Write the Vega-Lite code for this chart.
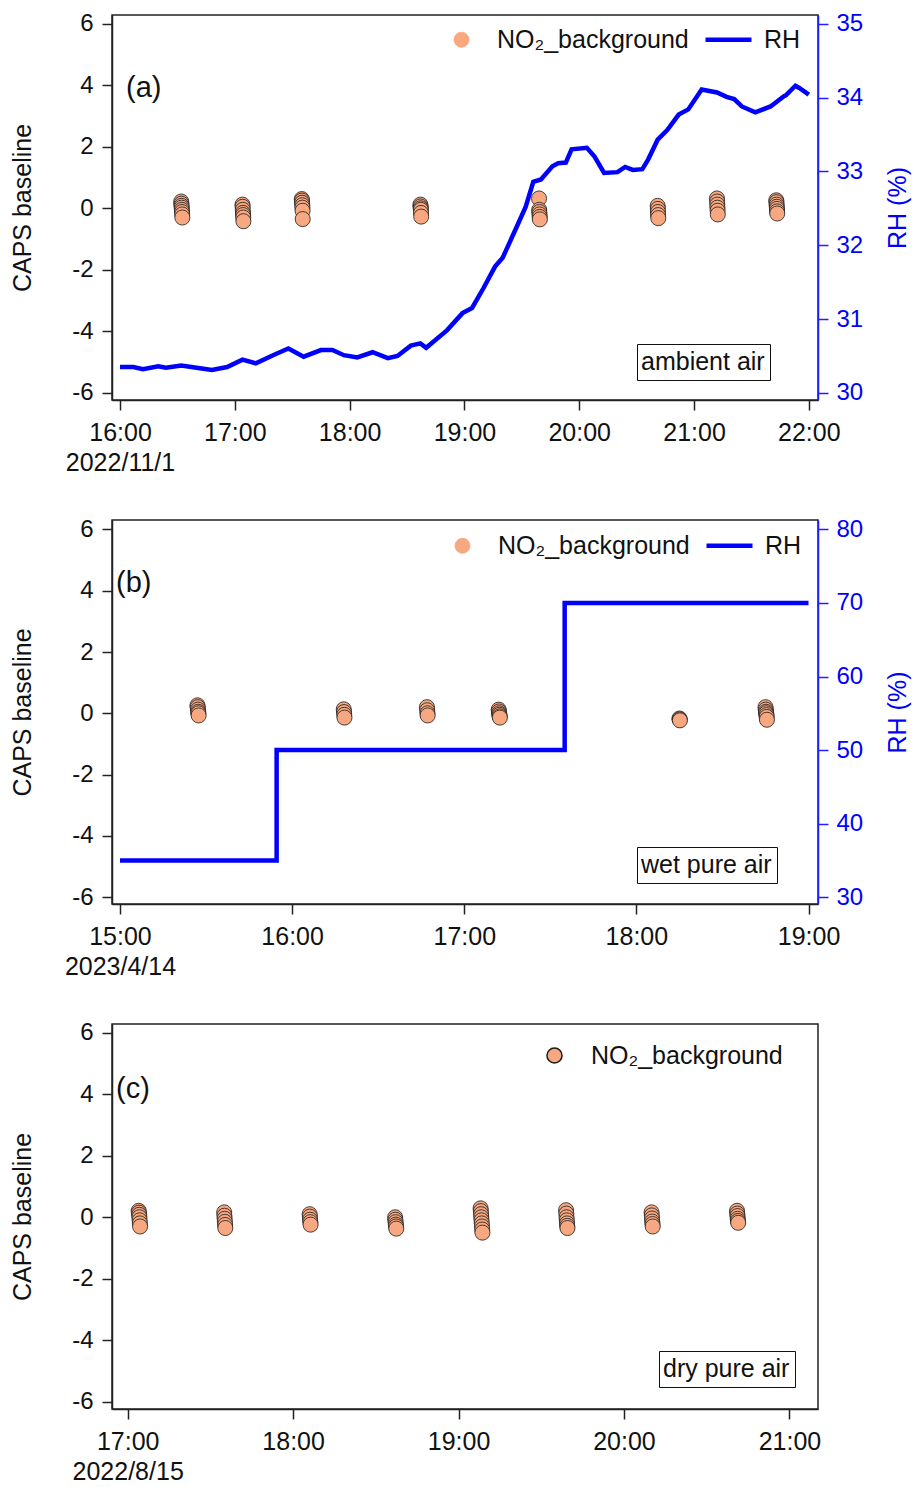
{
  "$schema": "https://vega.github.io/schema/vega-lite/v6.json",
  "background": "white",
  "padding": {"left": 9, "top": 11, "right": 5, "bottom": 5},
  "spacing": 120,
  "bounds": "flush",
  "config": {
    "font": "Liberation Sans",
    "view": {"stroke": "#222", "strokeWidth": 1.5},
    "axis": {
      "labelFont": "Liberation Sans", "titleFont": "Liberation Sans",
      "labelColor": "#111", "titleColor": "#111", "titleFontWeight": "normal",
      "domainColor": "#222", "tickColor": "#222", "domainWidth": 1.5, "tickWidth": 1.5,
      "tickSize": 10, "grid": false, "labelOverlap": false
    },
    "legend": {"labelFont": "Liberation Sans", "labelFontSize": 25, "labelColor": "#111", "labelLimit": 500},
    "title": {"font": "Liberation Sans", "fontSize": 29, "fontWeight": "normal", "color": "#111"}
  },
  "datasets": {
    "a_pts": [
      {"t": "2022-11-01T16:32:00Z", "v": 0.22}, {"t": "2022-11-01T16:32:05Z", "v": 0.15}, {"t": "2022-11-01T16:32:10Z", "v": 0.08}, {"t": "2022-11-01T16:32:15Z", "v": 0.02},
      {"t": "2022-11-01T16:32:20Z", "v": -0.05}, {"t": "2022-11-01T16:32:25Z", "v": -0.12}, {"t": "2022-11-01T16:32:30Z", "v": -0.2}, {"t": "2022-11-01T16:32:35Z", "v": -0.3},
      {"t": "2022-11-01T17:04:00Z", "v": 0.12}, {"t": "2022-11-01T17:04:05Z", "v": 0.05}, {"t": "2022-11-01T17:04:10Z", "v": -0.05}, {"t": "2022-11-01T17:04:15Z", "v": -0.15},
      {"t": "2022-11-01T17:04:20Z", "v": -0.22}, {"t": "2022-11-01T17:04:25Z", "v": -0.3}, {"t": "2022-11-01T17:04:30Z", "v": -0.42},
      {"t": "2022-11-01T17:35:00Z", "v": 0.3}, {"t": "2022-11-01T17:35:05Z", "v": 0.25}, {"t": "2022-11-01T17:35:10Z", "v": 0.18}, {"t": "2022-11-01T17:35:15Z", "v": 0.1},
      {"t": "2022-11-01T17:35:20Z", "v": 0.02}, {"t": "2022-11-01T17:35:25Z", "v": -0.08}, {"t": "2022-11-01T17:35:30Z", "v": -0.35},
      {"t": "2022-11-01T18:37:00Z", "v": 0.12}, {"t": "2022-11-01T18:37:05Z", "v": 0.06}, {"t": "2022-11-01T18:37:10Z", "v": 0.0}, {"t": "2022-11-01T18:37:15Z", "v": -0.05},
      {"t": "2022-11-01T18:37:20Z", "v": -0.15}, {"t": "2022-11-01T18:37:25Z", "v": -0.27},
      {"t": "2022-11-01T19:39:00Z", "v": 0.32}, {"t": "2022-11-01T19:39:05Z", "v": -0.05}, {"t": "2022-11-01T19:39:10Z", "v": -0.12}, {"t": "2022-11-01T19:39:15Z", "v": -0.2},
      {"t": "2022-11-01T19:39:20Z", "v": -0.28}, {"t": "2022-11-01T19:39:25Z", "v": -0.36},
      {"t": "2022-11-01T20:41:00Z", "v": 0.08}, {"t": "2022-11-01T20:41:05Z", "v": -0.02}, {"t": "2022-11-01T20:41:10Z", "v": -0.12}, {"t": "2022-11-01T20:41:15Z", "v": -0.22},
      {"t": "2022-11-01T20:41:20Z", "v": -0.32},
      {"t": "2022-11-01T21:12:00Z", "v": 0.32}, {"t": "2022-11-01T21:12:05Z", "v": 0.22}, {"t": "2022-11-01T21:12:10Z", "v": 0.12}, {"t": "2022-11-01T21:12:15Z", "v": 0.02},
      {"t": "2022-11-01T21:12:20Z", "v": -0.08}, {"t": "2022-11-01T21:12:25Z", "v": -0.2},
      {"t": "2022-11-01T21:43:00Z", "v": 0.26}, {"t": "2022-11-01T21:43:05Z", "v": 0.2}, {"t": "2022-11-01T21:43:10Z", "v": 0.12}, {"t": "2022-11-01T21:43:15Z", "v": 0.05},
      {"t": "2022-11-01T21:43:20Z", "v": -0.02}, {"t": "2022-11-01T21:43:25Z", "v": -0.1}, {"t": "2022-11-01T21:43:30Z", "v": -0.17}
    ],
    "a_rh": [
      {"t": "2022-11-01T16:00:00Z", "rh": 30.35}, {"t": "2022-11-01T16:07:00Z", "rh": 30.35}, {"t": "2022-11-01T16:12:00Z", "rh": 30.32}, {"t": "2022-11-01T16:20:00Z", "rh": 30.36},
      {"t": "2022-11-01T16:24:00Z", "rh": 30.34}, {"t": "2022-11-01T16:32:00Z", "rh": 30.37}, {"t": "2022-11-01T16:40:00Z", "rh": 30.34}, {"t": "2022-11-01T16:48:00Z", "rh": 30.31},
      {"t": "2022-11-01T16:56:00Z", "rh": 30.35}, {"t": "2022-11-01T17:04:00Z", "rh": 30.45}, {"t": "2022-11-01T17:11:00Z", "rh": 30.40}, {"t": "2022-11-01T17:20:00Z", "rh": 30.51},
      {"t": "2022-11-01T17:28:00Z", "rh": 30.60}, {"t": "2022-11-01T17:36:00Z", "rh": 30.49}, {"t": "2022-11-01T17:45:00Z", "rh": 30.58}, {"t": "2022-11-01T17:51:00Z", "rh": 30.58},
      {"t": "2022-11-01T17:57:00Z", "rh": 30.51}, {"t": "2022-11-01T18:04:00Z", "rh": 30.48}, {"t": "2022-11-01T18:12:00Z", "rh": 30.55}, {"t": "2022-11-01T18:20:00Z", "rh": 30.47},
      {"t": "2022-11-01T18:25:00Z", "rh": 30.50}, {"t": "2022-11-01T18:32:00Z", "rh": 30.64}, {"t": "2022-11-01T18:37:00Z", "rh": 30.67}, {"t": "2022-11-01T18:40:00Z", "rh": 30.61},
      {"t": "2022-11-01T18:51:00Z", "rh": 30.85}, {"t": "2022-11-01T18:59:00Z", "rh": 31.08}, {"t": "2022-11-01T19:04:00Z", "rh": 31.15}, {"t": "2022-11-01T19:10:00Z", "rh": 31.42},
      {"t": "2022-11-01T19:16:00Z", "rh": 31.71}, {"t": "2022-11-01T19:20:00Z", "rh": 31.83}, {"t": "2022-11-01T19:27:00Z", "rh": 32.23}, {"t": "2022-11-01T19:32:00Z", "rh": 32.52},
      {"t": "2022-11-01T19:36:00Z", "rh": 32.86}, {"t": "2022-11-01T19:40:00Z", "rh": 32.89}, {"t": "2022-11-01T19:46:00Z", "rh": 33.07}, {"t": "2022-11-01T19:49:00Z", "rh": 33.11},
      {"t": "2022-11-01T19:53:00Z", "rh": 33.12}, {"t": "2022-11-01T19:56:00Z", "rh": 33.30}, {"t": "2022-11-01T20:04:00Z", "rh": 33.32}, {"t": "2022-11-01T20:08:00Z", "rh": 33.20},
      {"t": "2022-11-01T20:13:00Z", "rh": 32.98}, {"t": "2022-11-01T20:20:00Z", "rh": 32.99}, {"t": "2022-11-01T20:24:00Z", "rh": 33.06}, {"t": "2022-11-01T20:28:00Z", "rh": 33.02},
      {"t": "2022-11-01T20:33:00Z", "rh": 33.03}, {"t": "2022-11-01T20:36:00Z", "rh": 33.16}, {"t": "2022-11-01T20:41:00Z", "rh": 33.43}, {"t": "2022-11-01T20:46:00Z", "rh": 33.56},
      {"t": "2022-11-01T20:52:00Z", "rh": 33.77}, {"t": "2022-11-01T20:57:00Z", "rh": 33.84}, {"t": "2022-11-01T21:04:00Z", "rh": 34.11}, {"t": "2022-11-01T21:12:00Z", "rh": 34.07},
      {"t": "2022-11-01T21:17:00Z", "rh": 34.01}, {"t": "2022-11-01T21:21:00Z", "rh": 33.98}, {"t": "2022-11-01T21:25:00Z", "rh": 33.88}, {"t": "2022-11-01T21:32:00Z", "rh": 33.80},
      {"t": "2022-11-01T21:40:00Z", "rh": 33.88}, {"t": "2022-11-01T21:47:00Z", "rh": 34.02}, {"t": "2022-11-01T21:48:00Z", "rh": 34.03}, {"t": "2022-11-01T21:53:00Z", "rh": 34.16},
      {"t": "2022-11-01T21:55:00Z", "rh": 34.13}, {"t": "2022-11-01T22:00:00Z", "rh": 34.04}
    ],
    "b_pts": [
      {"t": "2023-04-14T15:27:00Z", "v": 0.26}, {"t": "2023-04-14T15:27:05Z", "v": 0.2}, {"t": "2023-04-14T15:27:10Z", "v": 0.12}, {"t": "2023-04-14T15:27:15Z", "v": 0.05},
      {"t": "2023-04-14T15:27:20Z", "v": 0.0}, {"t": "2023-04-14T15:27:25Z", "v": -0.07},
      {"t": "2023-04-14T16:18:00Z", "v": 0.13}, {"t": "2023-04-14T16:18:05Z", "v": 0.04}, {"t": "2023-04-14T16:18:10Z", "v": -0.05}, {"t": "2023-04-14T16:18:15Z", "v": -0.14},
      {"t": "2023-04-14T16:47:00Z", "v": 0.2}, {"t": "2023-04-14T16:47:05Z", "v": 0.1}, {"t": "2023-04-14T16:47:10Z", "v": 0.0}, {"t": "2023-04-14T16:47:15Z", "v": -0.07},
      {"t": "2023-04-14T17:12:00Z", "v": 0.12}, {"t": "2023-04-14T17:12:05Z", "v": 0.06}, {"t": "2023-04-14T17:12:10Z", "v": 0.0}, {"t": "2023-04-14T17:12:15Z", "v": -0.05},
      {"t": "2023-04-14T17:12:20Z", "v": -0.1}, {"t": "2023-04-14T17:12:25Z", "v": -0.14},
      {"t": "2023-04-14T18:15:00Z", "v": -0.17}, {"t": "2023-04-14T18:15:05Z", "v": -0.2}, {"t": "2023-04-14T18:15:10Z", "v": -0.23},
      {"t": "2023-04-14T18:45:00Z", "v": 0.2}, {"t": "2023-04-14T18:45:05Z", "v": 0.12}, {"t": "2023-04-14T18:45:10Z", "v": 0.05}, {"t": "2023-04-14T18:45:15Z", "v": 0.0},
      {"t": "2023-04-14T18:45:20Z", "v": -0.06}, {"t": "2023-04-14T18:45:25Z", "v": -0.12}, {"t": "2023-04-14T18:45:30Z", "v": -0.21}
    ],
    "b_rh": [
      {"t": "2023-04-14T15:00:00Z", "rh": 35}, {"t": "2023-04-14T15:54:36Z", "rh": 50},
      {"t": "2023-04-14T17:35:00Z", "rh": 70}, {"t": "2023-04-14T19:00:00Z", "rh": 70}
    ],
    "c_pts": [
      {"t": "2022-08-15T17:04:00Z", "v": 0.21}, {"t": "2022-08-15T17:04:05Z", "v": 0.15}, {"t": "2022-08-15T17:04:10Z", "v": 0.08}, {"t": "2022-08-15T17:04:15Z", "v": 0.0},
      {"t": "2022-08-15T17:04:20Z", "v": -0.1}, {"t": "2022-08-15T17:04:25Z", "v": -0.2}, {"t": "2022-08-15T17:04:30Z", "v": -0.3},
      {"t": "2022-08-15T17:35:00Z", "v": 0.16}, {"t": "2022-08-15T17:35:05Z", "v": 0.05}, {"t": "2022-08-15T17:35:10Z", "v": -0.05}, {"t": "2022-08-15T17:35:15Z", "v": -0.15},
      {"t": "2022-08-15T17:35:20Z", "v": -0.25}, {"t": "2022-08-15T17:35:25Z", "v": -0.35},
      {"t": "2022-08-15T18:06:00Z", "v": 0.1}, {"t": "2022-08-15T18:06:05Z", "v": 0.02}, {"t": "2022-08-15T18:06:10Z", "v": -0.08}, {"t": "2022-08-15T18:06:15Z", "v": -0.16},
      {"t": "2022-08-15T18:06:20Z", "v": -0.24},
      {"t": "2022-08-15T18:37:00Z", "v": 0.0}, {"t": "2022-08-15T18:37:05Z", "v": -0.08}, {"t": "2022-08-15T18:37:10Z", "v": -0.16}, {"t": "2022-08-15T18:37:15Z", "v": -0.24},
      {"t": "2022-08-15T18:37:20Z", "v": -0.3}, {"t": "2022-08-15T18:37:25Z", "v": -0.37},
      {"t": "2022-08-15T19:08:00Z", "v": 0.29}, {"t": "2022-08-15T19:08:05Z", "v": 0.2}, {"t": "2022-08-15T19:08:10Z", "v": 0.1}, {"t": "2022-08-15T19:08:15Z", "v": 0.0},
      {"t": "2022-08-15T19:08:20Z", "v": -0.1}, {"t": "2022-08-15T19:08:25Z", "v": -0.2}, {"t": "2022-08-15T19:08:30Z", "v": -0.3}, {"t": "2022-08-15T19:08:35Z", "v": -0.4},
      {"t": "2022-08-15T19:08:40Z", "v": -0.5},
      {"t": "2022-08-15T19:39:00Z", "v": 0.23}, {"t": "2022-08-15T19:39:05Z", "v": 0.12}, {"t": "2022-08-15T19:39:10Z", "v": 0.0}, {"t": "2022-08-15T19:39:15Z", "v": -0.1},
      {"t": "2022-08-15T19:39:20Z", "v": -0.2}, {"t": "2022-08-15T19:39:25Z", "v": -0.28}, {"t": "2022-08-15T19:39:30Z", "v": -0.35},
      {"t": "2022-08-15T20:10:00Z", "v": 0.16}, {"t": "2022-08-15T20:10:05Z", "v": 0.06}, {"t": "2022-08-15T20:10:10Z", "v": -0.04}, {"t": "2022-08-15T20:10:15Z", "v": -0.14},
      {"t": "2022-08-15T20:10:20Z", "v": -0.22}, {"t": "2022-08-15T20:10:25Z", "v": -0.3},
      {"t": "2022-08-15T20:41:00Z", "v": 0.21}, {"t": "2022-08-15T20:41:05Z", "v": 0.12}, {"t": "2022-08-15T20:41:10Z", "v": 0.04}, {"t": "2022-08-15T20:41:15Z", "v": -0.05},
      {"t": "2022-08-15T20:41:20Z", "v": -0.12}, {"t": "2022-08-15T20:41:25Z", "v": -0.18}
    ]
  },
  "vconcat": [
    {
      "width": 706, "height": 385,
      "title": {"text": "(a)", "anchor": "start", "frame": "group", "orient": "top", "offset": 0, "baseline": "alphabetic", "dx": 14, "dy": 114},
      "encoding": {
        "x": {"field": "t", "type": "temporal",
          "scale": {"type": "utc", "domain": [{"year": 2022, "month": 11, "date": 1, "hours": 15, "minutes": 55, "seconds": 49, "utc": true}, {"year": 2022, "month": 11, "date": 1, "hours": 22, "minutes": 4, "seconds": 48, "utc": true}]},
          "axis": {"title": null, "labelFontSize": 25, "labelPadding": 10, "labelFlush": false, "labelLineHeight": 30, "labelBaseline": "top",
            "values": [{"year": 2022, "month": 11, "date": 1, "hours": 16, "utc": true}, {"year": 2022, "month": 11, "date": 1, "hours": 17, "utc": true}, {"year": 2022, "month": 11, "date": 1, "hours": 18, "utc": true}, {"year": 2022, "month": 11, "date": 1, "hours": 19, "utc": true}, {"year": 2022, "month": 11, "date": 1, "hours": 20, "utc": true}, {"year": 2022, "month": 11, "date": 1, "hours": 21, "utc": true}, {"year": 2022, "month": 11, "date": 1, "hours": 22, "utc": true}],
            "labelExpr": "utcFormat(datum.value, '%H:%M') == '16:00' ? ['16:00', '2022/11/1'] : utcFormat(datum.value, '%H:%M')"}}
      },
      "layer": [
        {"data": {"name": "a_rh"}, "mark": {"type": "line", "strokeWidth": 4.5},
          "encoding": {
            "y": {"field": "rh", "type": "quantitative", "scale": {"domain": [29.903, 35.119], "nice": false, "zero": false},
              "axis": {"orient": "right", "title": "RH (%)", "values": [30, 31, 32, 33, 34, 35], "domainColor": "#2020ff", "tickColor": "#2020ff", "labelColor": "#0000ff", "titleColor": "#0000ff", "labelFontSize": 24, "labelPadding": 8, "titleFontSize": 25, "titleAngle": 270, "titleBaseline": "top", "titlePadding": 23}},
            "color": {"datum": "RH", "type": "nominal", "scale": {"domain": ["NO₂_background", "RH"], "range": ["#F7A880", "#0000FF"]},
              "legend": {"title": null, "orient": "none", "legendX": 337, "legendY": 12, "direction": "horizontal", "padding": 0, "symbolSize": 2116, "labelOffset": 23, "columnPadding": 7,
                "encode": {"symbols": {"update": {
                  "shape": {"signal": "datum.value === 'RH' ? 'stroke' : 'circle'"},
                  "size": {"signal": "datum.value === 'RH' ? 2116 : 227"},
                  "fill": {"signal": "datum.value === 'RH' ? 'transparent' : '#F7A880'"},
                  "stroke": {"signal": "datum.value === 'RH' ? '#0000FF' : '#1a1a1a'"},
                  "strokeWidth": {"signal": "datum.value === 'RH' ? 4.5 : 0.8"},
                  "opacity": {"value": 1}}}}}}
          }},
        {"data": {"name": "a_pts"}, "mark": {"type": "point", "filled": true, "size": 227, "stroke": "#1a1a1a", "strokeWidth": 0.8, "opacity": 1},
          "encoding": {
            "y": {"field": "v", "type": "quantitative", "scale": {"domain": [-6.234, 6.286], "nice": false, "zero": false},
              "axis": {"orient": "left", "title": "CAPS baseline", "values": [-6, -4, -2, 0, 2, 4, 6], "labelExpr": "'' + datum.value", "labelFontSize": 24, "labelPadding": 9, "titleFontSize": 25, "titlePadding": 36}},
            "color": {"datum": "NO₂_background", "type": "nominal"}
          }},
        {"data": {"name": "a_pts"}, "mark": {"type": "point", "opacity": 0},
          "encoding": {
            "shape": {"datum": "ambient air", "type": "nominal",
              "legend": {"title": null, "orient": "none", "legendX": 525, "legendY": 329, "padding": 5, "symbolSize": 0, "symbolOpacity": 0, "labelOffset": -26, "strokeColor": "#111",
                "encode": {"legend": {"update": {"strokeWidth": {"value": 1.5}}}}}}
          }}
      ],
      "resolve": {"scale": {"y": "independent"}}
    },
    {
      "width": 706, "height": 384,
      "title": {"text": "(b)", "anchor": "start", "frame": "group", "orient": "top", "offset": 0, "baseline": "alphabetic", "dx": 4, "dy": 104},
      "encoding": {
        "x": {"field": "t", "type": "temporal",
          "scale": {"type": "utc", "domain": [{"year": 2023, "month": 4, "date": 14, "hours": 14, "minutes": 57, "seconds": 13, "utc": true}, {"year": 2023, "month": 4, "date": 14, "hours": 19, "minutes": 3, "seconds": 18, "utc": true}]},
          "axis": {"title": null, "labelFontSize": 25, "labelPadding": 10, "labelFlush": false, "labelLineHeight": 30, "labelBaseline": "top",
            "values": [{"year": 2023, "month": 4, "date": 14, "hours": 15, "utc": true}, {"year": 2023, "month": 4, "date": 14, "hours": 16, "utc": true}, {"year": 2023, "month": 4, "date": 14, "hours": 17, "utc": true}, {"year": 2023, "month": 4, "date": 14, "hours": 18, "utc": true}, {"year": 2023, "month": 4, "date": 14, "hours": 19, "utc": true}],
            "labelExpr": "utcFormat(datum.value, '%H:%M') == '15:00' ? ['15:00', '2023/4/14'] : utcFormat(datum.value, '%H:%M')"}}
      },
      "layer": [
        {"data": {"name": "b_rh"}, "mark": {"type": "line", "strokeWidth": 4.5, "interpolate": "step-after"},
          "encoding": {
            "y": {"field": "rh", "type": "quantitative", "scale": {"domain": [29.07, 81.28], "nice": false, "zero": false},
              "axis": {"orient": "right", "title": "RH (%)", "values": [30, 40, 50, 60, 70, 80], "domainColor": "#2020ff", "tickColor": "#2020ff", "labelColor": "#0000ff", "titleColor": "#0000ff", "labelFontSize": 24, "labelPadding": 8, "titleFontSize": 25, "titleAngle": 270, "titleBaseline": "top", "titlePadding": 23}},
            "color": {"datum": "RH", "type": "nominal", "scale": {"domain": ["NO₂_background", "RH"], "range": ["#F7A880", "#0000FF"]},
              "legend": {"title": null, "orient": "none", "legendX": 338, "legendY": 13, "direction": "horizontal", "padding": 0, "symbolSize": 2116, "labelOffset": 23, "columnPadding": 7,
                "encode": {"symbols": {"update": {
                  "shape": {"signal": "datum.value === 'RH' ? 'stroke' : 'circle'"},
                  "size": {"signal": "datum.value === 'RH' ? 2116 : 227"},
                  "fill": {"signal": "datum.value === 'RH' ? 'transparent' : '#F7A880'"},
                  "stroke": {"signal": "datum.value === 'RH' ? '#0000FF' : '#1a1a1a'"},
                  "strokeWidth": {"signal": "datum.value === 'RH' ? 4.5 : 0.8"},
                  "opacity": {"value": 1}}}}}}
          }},
        {"data": {"name": "b_pts"}, "mark": {"type": "point", "filled": true, "size": 227, "stroke": "#1a1a1a", "strokeWidth": 0.8, "opacity": 1},
          "encoding": {
            "y": {"field": "v", "type": "quantitative", "scale": {"domain": [-6.222, 6.307], "nice": false, "zero": false},
              "axis": {"orient": "left", "title": "CAPS baseline", "values": [-6, -4, -2, 0, 2, 4, 6], "labelExpr": "'' + datum.value", "labelFontSize": 24, "labelPadding": 9, "titleFontSize": 25, "titlePadding": 36}},
            "color": {"datum": "NO₂_background", "type": "nominal"}
          }},
        {"data": {"name": "b_pts"}, "mark": {"type": "point", "opacity": 0},
          "encoding": {
            "shape": {"datum": "wet pure air", "type": "nominal",
              "legend": {"title": null, "orient": "none", "legendX": 525, "legendY": 327, "padding": 5, "symbolSize": 0, "symbolOpacity": 0, "labelOffset": -26, "strokeColor": "#111",
                "encode": {"legend": {"update": {"strokeWidth": {"value": 1.5}}}}}}
          }}
      ],
      "resolve": {"scale": {"y": "independent"}}
    },
    {
      "width": 706, "height": 385,
      "title": {"text": "(c)", "anchor": "start", "frame": "group", "orient": "top", "offset": 0, "baseline": "alphabetic", "dx": 4, "dy": 106},
      "encoding": {
        "x": {"field": "t", "type": "temporal",
          "scale": {"type": "utc", "domain": [{"year": 2022, "month": 8, "date": 15, "hours": 16, "minutes": 54, "seconds": 19, "utc": true}, {"year": 2022, "month": 8, "date": 15, "hours": 21, "minutes": 10, "seconds": 22, "utc": true}]},
          "axis": {"title": null, "labelFontSize": 25, "labelPadding": 10, "labelFlush": false, "labelLineHeight": 30, "labelBaseline": "top",
            "values": [{"year": 2022, "month": 8, "date": 15, "hours": 17, "utc": true}, {"year": 2022, "month": 8, "date": 15, "hours": 18, "utc": true}, {"year": 2022, "month": 8, "date": 15, "hours": 19, "utc": true}, {"year": 2022, "month": 8, "date": 15, "hours": 20, "utc": true}, {"year": 2022, "month": 8, "date": 15, "hours": 21, "utc": true}],
            "labelExpr": "utcFormat(datum.value, '%H:%M') == '17:00' ? ['17:00', '2022/8/15'] : utcFormat(datum.value, '%H:%M')"}}
      },
      "layer": [
        {"data": {"name": "c_pts"}, "mark": {"type": "point", "filled": true, "size": 227, "stroke": "#1a1a1a", "strokeWidth": 0.8, "opacity": 1},
          "encoding": {
            "y": {"field": "v", "type": "quantitative", "scale": {"domain": [-6.24, 6.29], "nice": false, "zero": false},
              "axis": {"orient": "left", "title": "CAPS baseline", "values": [-6, -4, -2, 0, 2, 4, 6], "labelExpr": "'' + datum.value", "labelFontSize": 24, "labelPadding": 9, "titleFontSize": 25, "titlePadding": 36}},
            "color": {"datum": "NO₂_background", "type": "nominal", "scale": {"domain": ["NO₂_background"], "range": ["#F7A880"]},
              "legend": {"title": null, "orient": "none", "legendX": 430, "legendY": 19, "padding": 0, "symbolSize": 227, "labelOffset": 24,
                "encode": {"symbols": {"update": {"fill": {"value": "#F7A880"}, "stroke": {"value": "#1a1a1a"}, "strokeWidth": {"value": 0.8}, "opacity": {"value": 1}}}}}}
          }},
        {"data": {"name": "c_pts"}, "mark": {"type": "point", "opacity": 0},
          "encoding": {
            "shape": {"datum": "dry pure air", "type": "nominal",
              "legend": {"title": null, "orient": "none", "legendX": 547, "legendY": 327, "padding": 5, "symbolSize": 0, "symbolOpacity": 0, "labelOffset": -26, "strokeColor": "#111",
                "encode": {"legend": {"update": {"strokeWidth": {"value": 1.5}}}}}}
          }}
      ]
    }
  ],
  "resolve": {"scale": {"x": "independent", "y": "independent", "color": "independent", "shape": "independent"}, "legend": {"color": "independent", "shape": "independent"}}
}
